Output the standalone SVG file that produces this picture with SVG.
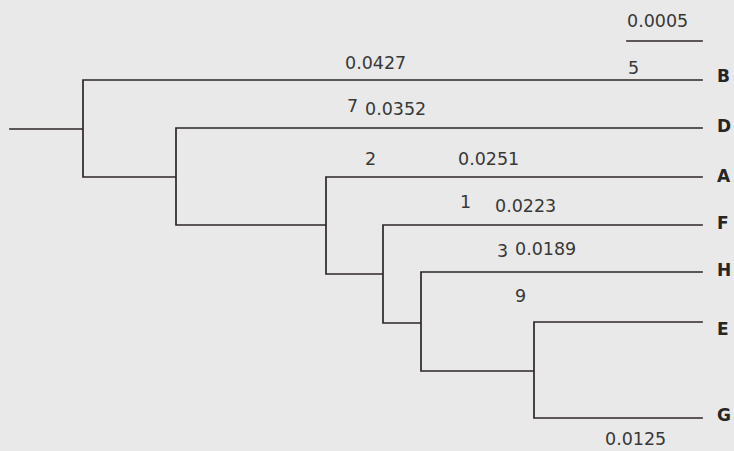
<svg xmlns="http://www.w3.org/2000/svg" width="734" height="451" viewBox="0 0 734 451">
<style>
.ln{stroke:#2e2626;stroke-width:1.7;fill:none;stroke-linecap:square}
.num{font-family:"DejaVu Sans",sans-serif;font-size:17.5px;fill:#383838}
.leaf{font-family:"DejaVu Sans",sans-serif;font-size:17px;font-weight:bold;fill:#262626}
</style>
<rect x="0" y="0" width="734" height="451" fill="#e9e9e9"/>
<g id="scale-bar">
<line class="ln" x1="627" y1="41" x2="702" y2="41"/>
<text class="num" x="627" y="27">0.0005</text>
</g>
<g id="connectors">
<path class="ln" d="M10 129 H83 M83 80 V177 M83 80 H702 M83 177 H176 M176 128 V225 M176 128 H702 M176 225 H326 M326 177 V274 M326 177 H702 M326 274 H383 M383 225 V323 M383 225 H702 M383 323 H421 M421 272 V371 M421 272 H702 M421 371 H534 M534 322 V418 M534 322 H702 M534 418 H702"/>
</g>
<g id="node-B">
<text class="leaf" x="717" y="82">B</text>
<text class="num" x="345" y="69">0.0427</text>
<text class="num" x="628" y="74">5</text>
</g>
<g id="node-D">
<text class="leaf" x="717" y="132">D</text>
<text class="num" x="347" y="112">7</text>
<text class="num" x="365" y="115">0.0352</text>
</g>
<g id="node-A">
<text class="leaf" x="717" y="182">A</text>
<text class="num" x="365" y="165">2</text>
<text class="num" x="458" y="165">0.0251</text>
</g>
<g id="node-F">
<text class="leaf" x="717" y="229">F</text>
<text class="num" x="460" y="208">1</text>
<text class="num" x="495" y="212">0.0223</text>
</g>
<g id="node-H">
<text class="leaf" x="717" y="276">H</text>
<text class="num" x="497" y="257">3</text>
<text class="num" x="515" y="255">0.0189</text>
</g>
<g id="node-E">
<text class="leaf" x="717" y="335">E</text>
<text class="num" x="515" y="302">9</text>
</g>
<g id="node-G">
<text class="leaf" x="717" y="421">G</text>
<text class="num" x="605" y="445">0.0125</text>
</g>
</svg>
